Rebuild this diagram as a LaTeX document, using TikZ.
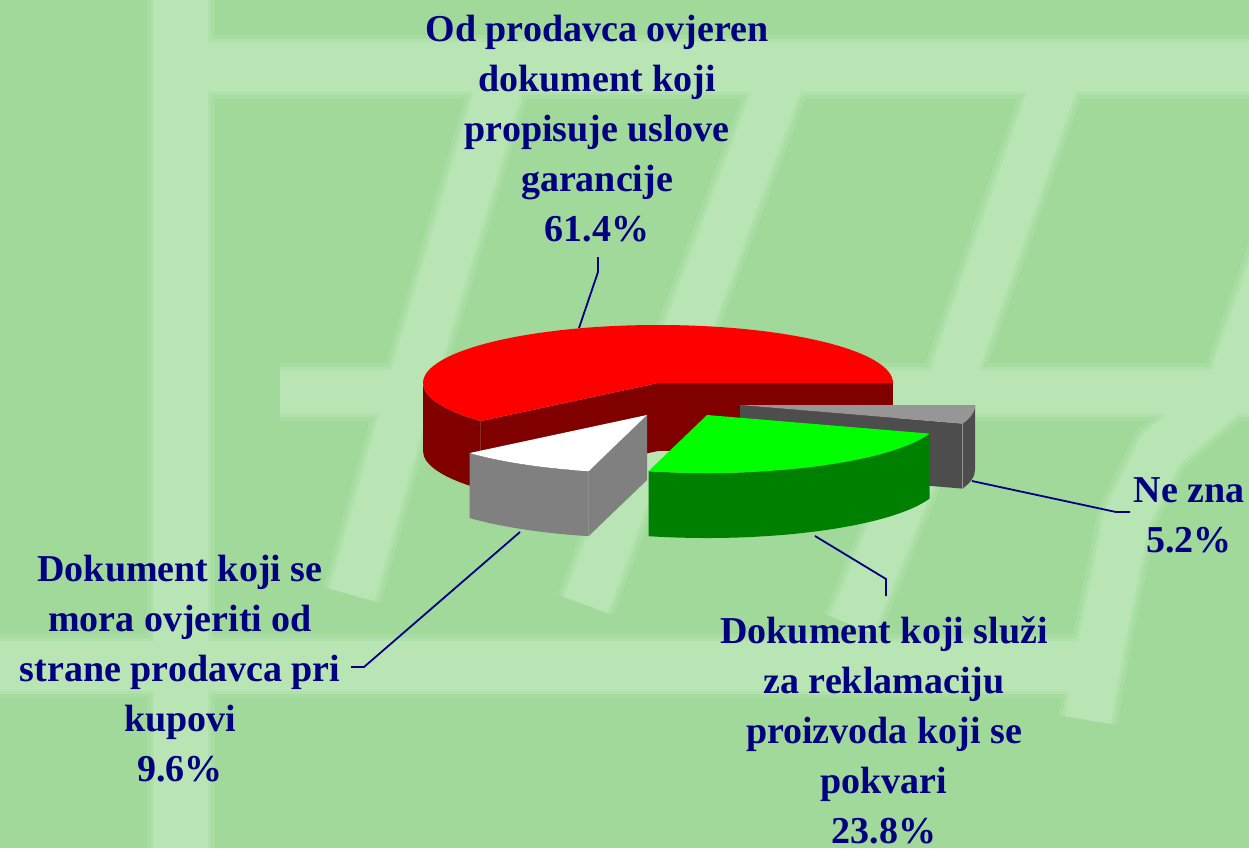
\documentclass[tikz,border=0pt]{standalone}
\usepackage{fontspec}
\setmainfont{Liberation Serif}
\usetikzlibrary{calc}
\definecolor{bggreen}{HTML}{A0D99A}
\definecolor{stripeA}{HTML}{A8DDA2}
\definecolor{stripeB}{HTML}{B0E1AB}
\definecolor{stripeC}{HTML}{B8E5B3}
\definecolor{navy}{HTML}{000080}
\definecolor{redtop}{HTML}{FF0000}
\definecolor{redside}{HTML}{800000}
\definecolor{greentop}{HTML}{00FF00}
\definecolor{greenside}{HTML}{008000}
\definecolor{whiteside}{HTML}{808080}
\definecolor{greytop}{HTML}{969696}
\definecolor{greyside}{HTML}{4D4D4D}
\newcommand\bgstripes[2]{%
  \begin{scope}[draw=#2, line cap=butt, line join=round]
    \draw[line width=54pt+#1pt] (181,0) -- (181,-848);
    \draw[line width=50pt+#1pt] (181,-67) -- (1249,-67);
    \draw[line width=44pt+#1pt] (280,-392) -- (1249,-392);
    \draw[line width=50pt+#1pt] (0,-666) -- (1110,-666);
    \draw[line width=46pt+#1pt] (505,-67) -- (409,-392) -- (352,-595);
    \draw[line width=46pt+#1pt] (785,-67) -- (664,-392) -- (586,-605);
    \draw[line width=46pt+#1pt] (1060,-67) -- (947,-392) -- (852,-625);
    \draw[line width=46pt+#1pt] (1342,-67) -- (1228,-392) -- (1160,-450) -- (1127,-517) -- (1100,-650) -- (1088,-720);
  \end{scope}}
\tikzset{
  lbl/.style={anchor=base, inner sep=0pt, text=navy,
    font=\fontsize{38}{50}\selectfont\bfseries},
  leader/.style={draw=navy, line width=1.8pt, line join=miter},
  ell/.style={x radius=235, y radius=58}
}
\begin{document}
\begin{tikzpicture}[x=1pt,y=1pt]
\useasboundingbox (0,0) rectangle (1249,-848);
\fill[bggreen] (0,0) rectangle (1249,-848);
\bgstripes{14}{stripeA}
\bgstripes{6}{stripeB}
\bgstripes{0}{stripeC}

% slice apexes
\coordinate (R) at (658,-383);
\coordinate (G) at (740,-405);
\coordinate (W) at (647,-415);
\coordinate (E) at (707,-415);

% red slice (61.4%)
\fill[redside] ($(R)+(180:235 and 58)$) arc[start angle=180,end angle=221,ell] -- ++(0,-68) arc[start angle=221,end angle=180,ell] -- cycle;
\fill[redside] (R) -- ++(235,0) -- ++(0,-68) -- ++(-235,0) -- cycle;
\fill[redside] (R) -- ($(R)+(221:235 and 58)$) -- ++(0,-68) -- ($(R)+(0,-68)$) -- cycle;
\fill[redtop] (R) -- ($(R)+(0:235 and 58)$) arc[start angle=0,end angle=221,ell] -- cycle;

% grey slice (5.2%)
\fill[greyside] ($(G)+(-18.7:235 and 58)$) arc[start angle=-18.7,end angle=0,ell] -- ++(0,-65) arc[start angle=0,end angle=-18.7,ell] -- cycle;
\fill[greyside] (G) -- ($(G)+(-18.7:235 and 58)$) -- ++(0,-65) -- ($(G)+(0,-65)$) -- cycle;
\fill[greytop] (G) -- ($(G)+(0:235 and 58)$) arc[start angle=0,end angle=-18.7,ell] -- cycle;
\draw[greytop, line width=1pt] ($(G)+(-18.7:235 and 58)$) -- ++(0,-65);

% white slice (9.6%)
\fill[whiteside] ($(W)+(-139:235 and 58)$) arc[start angle=-139,end angle=-104.4,ell] -- ++(0,-65) arc[start angle=-104.4,end angle=-139,ell] -- cycle;
\fill[whiteside] (W) -- ($(W)+(-104.4:235 and 58)$) -- ++(0,-65) -- ($(W)+(0,-65)$) -- cycle;
\fill[white] (W) -- ($(W)+(-139:235 and 58)$) arc[start angle=-139,end angle=-104.4,ell] -- cycle;

% green slice (23.8%)
\fill[greenside] ($(E)+(-104.4:235 and 58)$) arc[start angle=-104.4,end angle=-18.7,ell] -- ++(0,-65) arc[start angle=-18.7,end angle=-104.4,ell] -- cycle;
\fill[greentop] (E) -- ($(E)+(-104.4:235 and 58)$) arc[start angle=-104.4,end angle=-18.7,ell] -- cycle;

% labels
\node[lbl] (t1) at (597,-42) {\begin{tabular}[t]{@{}c@{}}Od prodavca ovjeren\\dokument koji\\propisuje uslove\\garancije\\61.4\%\end{tabular}};
\node[lbl] (t2) at (1189,-502) {\begin{tabular}[t]{@{}c@{}}Ne zna\\5.2\%\end{tabular}};
\node[lbl] (t3) at (884,-643) {\begin{tabular}[t]{@{}c@{}}Dokument koji služi\\za reklamaciju\\proizvoda koji se\\pokvari\\23.8\%\end{tabular}};
\node[lbl] (t4) at (180,-581) {\begin{tabular}[t]{@{}c@{}}Dokument koji se\\mora ovjeriti od\\strane prodavca pri\\kupovi\\9.6\%\end{tabular}};

% leader lines
\coordinate (p1) at (579,-328); \coordinate (k1) at (598,-272); \coordinate (e1) at (598,-257);
\coordinate (p2) at (972,-481); \coordinate (k2) at (1116,-512); \coordinate (e2) at (1130,-512);
\coordinate (p3) at (815,-536); \coordinate (k3) at (886,-579); \coordinate (e3) at (886,-596);
\coordinate (p4) at (520,-532); \coordinate (k4) at (364,-667); \coordinate (e4) at (351,-667);
\draw[leader] (p1) -- (k1) -- (e1);
\draw[leader] (p2) -- (k2) -- (e2);
\draw[leader] (p3) -- (k3) -- (e3);
\draw[leader] (p4) -- (k4) -- (e4);
\end{tikzpicture}
\end{document}
